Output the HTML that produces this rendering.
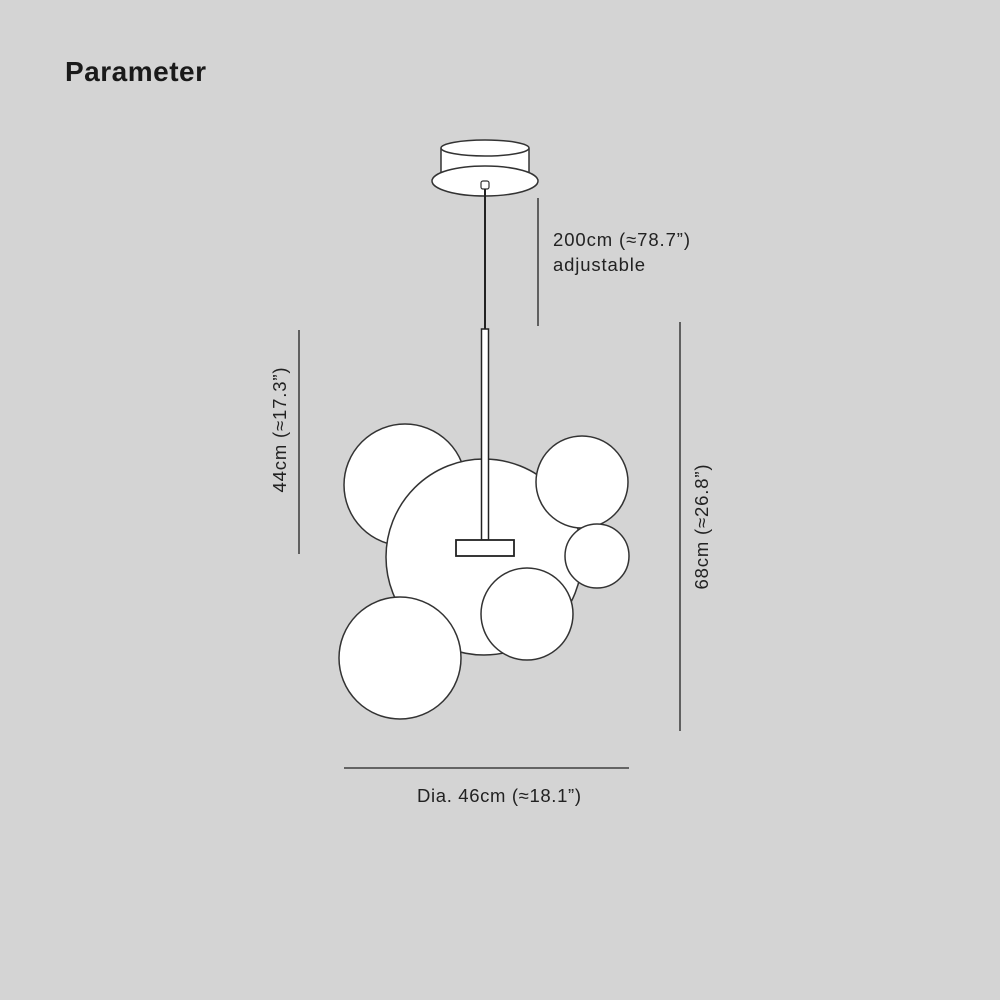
<!DOCTYPE html>
<html><head><meta charset="utf-8"><style>
html,body{margin:0;padding:0;background:#d4d4d4;}
svg{display:block}
</style></head><body>
<svg width="1000" height="1000" viewBox="0 0 1000 1000" xmlns="http://www.w3.org/2000/svg" font-family="'Liberation Sans', sans-serif">
<rect width="1000" height="1000" fill="#d4d4d4"/>
<text x="65" y="81" font-size="28" font-weight="bold" fill="#1a1a1a" textLength="141">Parameter</text>
<!-- canopy -->
<path d="M441 149 L441 176 A53 14 0 0 0 529 176 L529 149 Z" fill="#fff" stroke="#333" stroke-width="1.5"/>
<ellipse cx="485" cy="181" rx="53" ry="15" fill="#fff" stroke="#333" stroke-width="1.5"/>
<ellipse cx="485" cy="148" rx="44" ry="8" fill="#fff" stroke="#333" stroke-width="1.5"/>
<rect x="481" y="181" width="8" height="8" rx="2" fill="#fff" stroke="#333" stroke-width="1.2"/>
<line x1="485" y1="189" x2="485" y2="329" stroke="#222" stroke-width="2"/>
<!-- globes -->
<g fill="#fff" stroke="#333" stroke-width="1.5">
<circle cx="405" cy="485" r="61"/>
<circle cx="484" cy="557" r="98"/>
<circle cx="582" cy="482" r="46"/>
<circle cx="597" cy="556" r="32"/>
<circle cx="527" cy="614" r="46"/>
<circle cx="400" cy="658" r="61"/>
</g>
<rect x="481.5" y="329" width="7" height="211" fill="#fff" stroke="#222" stroke-width="1.5"/>
<rect x="456" y="540" width="58" height="16" fill="#fff" stroke="#222" stroke-width="1.8"/>
<!-- dimension lines -->
<g stroke="#222" stroke-width="1.3">
<line x1="538" y1="198" x2="538" y2="326"/>
<line x1="299" y1="330" x2="299" y2="554"/>
<line x1="680" y1="322" x2="680" y2="731"/>
<line x1="344" y1="768" x2="629" y2="768"/>
</g>
<g font-size="18.5" fill="#222">
<text x="553" y="246" textLength="137">200cm (≈78.7”)</text>
<text x="553" y="271" textLength="92">adjustable</text>
<text x="499" y="802" text-anchor="middle" textLength="164">Dia. 46cm (≈18.1”)</text>
<text transform="translate(286,430) rotate(-90)" text-anchor="middle" textLength="125">44cm (≈17.3”)</text>
<text transform="translate(708,527) rotate(-90)" text-anchor="middle" textLength="125">68cm (≈26.8”)</text>
</g>
</svg>
</body></html>
